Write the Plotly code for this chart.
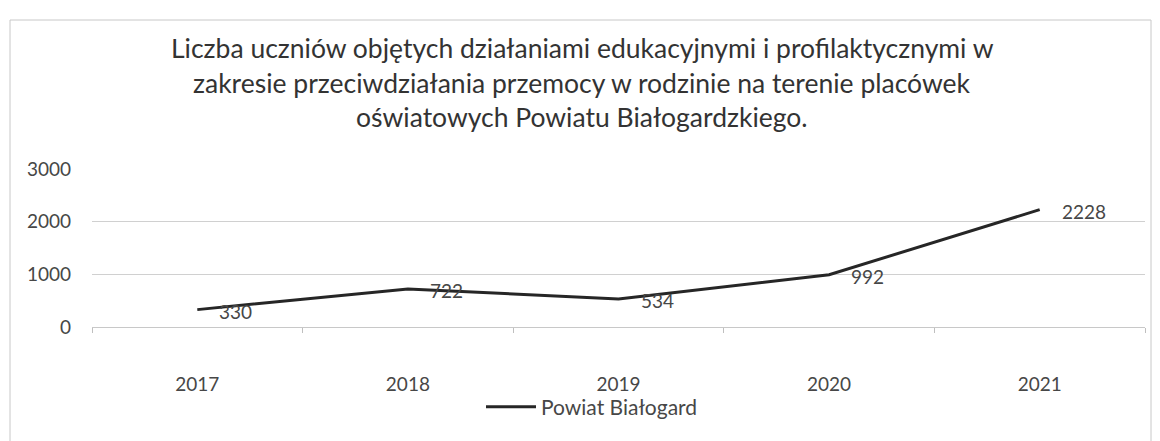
import plotly.graph_objects as go

years = ["2017", "2018", "2019", "2020", "2021"]
values = [330, 722, 534, 992, 2228]
series_name = "Powiat Białogard"
title_lines = [
    "Liczba uczniów objętych działaniami edukacyjnymi i profilaktycznymi w",
    "zakresie przeciwdziałania przemocy w rodzinie na terenie placówek",
    "oświatowych Powiatu Białogardzkiego.",
]

FONT = "Lato"
TXT = "#474747"
W, H = 1160, 441
T, B, L, R = 169, 114, 92, 15
PW = W - L - R
PH = H - T - B

def py(pix):
    return (H - B - pix) / PH

def px(pix):
    return (pix - L) / PW

fig = go.Figure()
fig.add_trace(go.Scatter(
    x=years, y=values, mode="lines", name=series_name,
    line=dict(color="#262626", width=3),
    cliponaxis=False,
))

# data labels placed right of each point
for i, v in enumerate(values):
    fig.add_annotation(x=i, y=v, xref="x", yref="y", text=str(v), showarrow=False,
                       xanchor="left", yanchor="middle", xshift=20, yshift=-2,
                       font=dict(family=FONT, size=19, color=TXT))

# title lines
for i, line in enumerate(title_lines):
    fig.add_annotation(x=px(582), xref="paper", y=py(48 + i * 34.5), yref="paper",
                       text=line, showarrow=False, xanchor="center", yanchor="middle",
                       font=dict(family=FONT, size=26.5, color="#333333"))

fig.update_layout(
    width=W, height=H,
    paper_bgcolor="white", plot_bgcolor="white",
    margin=dict(l=L, r=R, t=T, b=B, autoexpand=False),
    font=dict(family=FONT, color=TXT),
    showlegend=True,
    legend=dict(orientation="h", x=px(592), xanchor="center", y=py(407), yanchor="middle",
                itemwidth=50, bgcolor="rgba(0,0,0,0)",
                font=dict(family=FONT, size=21, color=TXT)),
    xaxis=dict(type="category", range=[-0.5, 4.5], showgrid=False, automargin=False,
               ticks="outside", tickson="boundaries", ticklen=5, tickcolor="#bfbfbf",
               showline=True, linecolor="#c8c8c8", linewidth=1,
               tickfont=dict(family=FONT, size=19, color=TXT), ticklabelstandoff=40),
    yaxis=dict(range=[0, 3000], tickvals=[0, 1000, 2000, 3000], showgrid=True, automargin=False,
               gridcolor="#d0d0d0", gridwidth=1, zeroline=False, showline=False,
               tickfont=dict(family=FONT, size=19, color=TXT), ticklabelstandoff=20),
)

fig.add_shape(type="rect", xref="paper", yref="paper",
              x0=px(10), x1=px(1151), y0=py(460), y1=py(20),
              line=dict(color="#c8c8c8", width=1), fillcolor="rgba(0,0,0,0)", layer="below")

fig.write_html("out.html", config={"displayModeBar": False},
               post_script="document.body.style.margin='0';")
